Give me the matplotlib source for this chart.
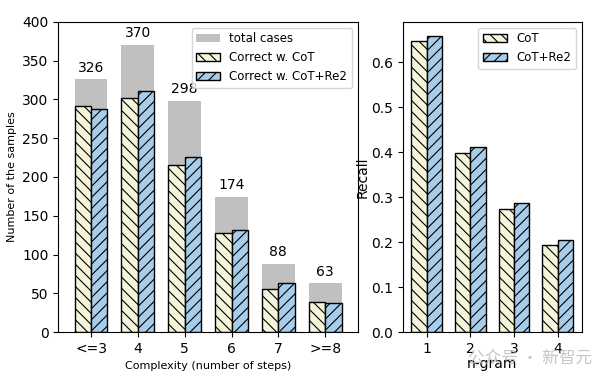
import numpy as np
import matplotlib.pyplot as plt

# left panel: accuracy by complexity
complexity = ["<=3", "4", "5", "6", "7", ">=8"]
total_cases = [326, 370, 298, 174, 88, 63]
correct_cot = [291, 302, 216, 128, 55, 39]
correct_re2 = [288, 311, 226, 132, 63, 38]

# right panel: n-gram recall
ngram = ["1", "2", "3", "4"]
recall_cot = [0.648, 0.398, 0.273, 0.193]
recall_re2 = [0.658, 0.411, 0.286, 0.204]

c_cot = "#f5f5dc"
c_re2 = "#a7cdeb"
c_tot = "#c0c0c0"

plt.rcParams["hatch.linewidth"] = 0.8

fig = plt.figure(figsize=(6.13, 3.83), dpi=100)
ax1 = fig.add_axes([0.095, 0.133, 0.489, 0.81])
ax2 = fig.add_axes([0.657, 0.133, 0.292, 0.81])

w = 0.35
x = np.arange(len(complexity))
ax1.bar(x, total_cases, width=2 * w, color=c_tot, label="total cases")
ax1.bar(x - w / 2, correct_cot, width=w, color=c_cot, edgecolor="black",
        hatch="\\\\\\", label="Correct w. CoT")
ax1.bar(x + w / 2, correct_re2, width=w, color=c_re2, edgecolor="black",
        hatch="///", label="Correct w. CoT+Re2")
for xi, t in zip(x, total_cases):
    ax1.text(xi, t + 6, str(t), ha="center", va="bottom", fontsize=10)
ax1.set_xticks(x)
ax1.set_xticklabels(complexity, fontsize=10)
ax1.set_xlim(-0.7, 5.7)
ax1.set_ylim(0, 400)
ax1.tick_params(axis="y", labelsize=10)
ax1.set_xlabel("Complexity (number of steps)", fontsize=8)
ax1.set_ylabel("Number of the samples", fontsize=8)
ax1.legend(loc="upper right", fontsize=8.5)

x2 = np.arange(1, len(ngram) + 1)
ax2.bar(x2 - w / 2, recall_cot, width=w, color=c_cot, edgecolor="black",
        hatch="\\\\\\", label="CoT")
ax2.bar(x2 + w / 2, recall_re2, width=w, color=c_re2, edgecolor="black",
        hatch="///", label="CoT+Re2")
ax2.set_xticks(x2)
ax2.set_xticklabels(ngram, fontsize=10)
ax2.set_xlim(0.45, 4.55)
ax2.set_ylim(0, 0.69)
ax2.tick_params(axis="y", labelsize=10)
ax2.set_xlabel("n-gram", fontsize=10, labelpad=1)
ax2.set_ylabel("Recall", fontsize=10, labelpad=1)
ax2.legend(loc="upper right", fontsize=8.5)

# faint watermark, as in the source image
fig.text(0.966, 0.065, "公众号 · 新智元", ha="right", va="center", fontsize=12,
         color="#b8b8b8", alpha=0.8, family=["Noto Sans CJK SC", "DejaVu Sans"])

fig.savefig("out.png", dpi=100)
